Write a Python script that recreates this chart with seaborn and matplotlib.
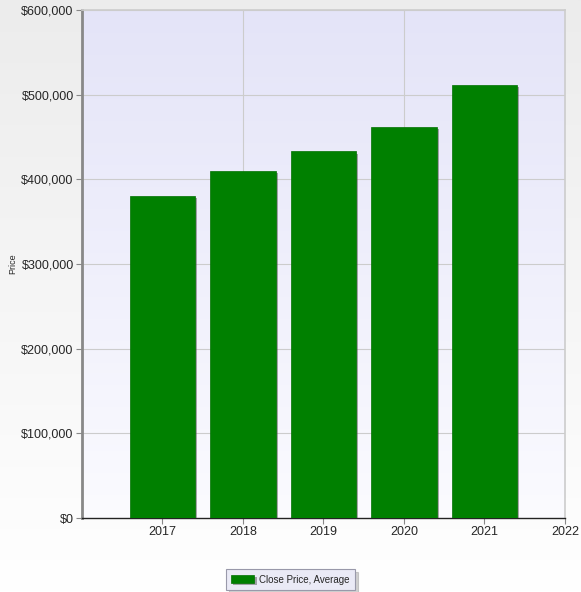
import numpy as np
import pandas as pd
import seaborn as sns
import matplotlib.pyplot as plt
import matplotlib.patheffects as pe
from matplotlib.ticker import FuncFormatter, MultipleLocator

# data
years = [2017, 2018, 2019, 2020, 2021]
avg_close_price = [380000, 410000, 433000, 462000, 512000]
series_name = "Close Price, Average"

df = pd.DataFrame({"year": years, "price": avg_close_price})

sns.set_style("white")
plt.rcParams["font.family"] = ["Liberation Sans", "DejaVu Sans"]

fig = plt.figure(figsize=(5.81, 5.92), dpi=100)

# light grey page gradient behind everything (top row first)
bg = fig.add_axes([0, 0, 1, 1], zorder=-10)
bg.imshow(np.linspace(0, 1, 256).reshape(-1, 1), cmap=sns.blend_palette(["#ececec", "#ffffff"], as_cmap=True),
          aspect="auto", extent=[0, 1, 0, 1])
bg.set_axis_off()

ax = fig.add_axes([0.1411, 0.125, 0.8313, 0.858])

# lavender gradient for the plot area, darker at the top
ax.imshow(np.linspace(0, 1, 256).reshape(-1, 1), cmap=sns.blend_palette(["#e4e4f8", "#fbfbff"], as_cmap=True),
          aspect="auto", extent=[2016, 2022, 0, 600000], zorder=0)

sns.barplot(data=df, x="year", y="price", native_scale=True, width=0.81,
            color="#008000", saturation=1, ax=ax, zorder=3, label=series_name,
            edgecolor="#007000", linewidth=0.5)

for bar in ax.patches:
    bar.set_path_effects([pe.SimplePatchShadow(offset=(1.5, -1.5), shadow_rgbFace="#555555", alpha=0.5), pe.Normal()])

ax.set_xlim(2016, 2022)
ax.set_ylim(0, 600000)
ax.set_xticks([2017, 2018, 2019, 2020, 2021, 2022])
ax.set_xticklabels(["2017", "2018", "2019", "2020", "2021", "2022"])
ax.yaxis.set_major_locator(MultipleLocator(100000))
ax.yaxis.set_major_formatter(FuncFormatter(lambda v, p: f"${v:,.0f}"))

# horizontal grid at every step, vertical grid only at even years
for v in range(100000, 600001, 100000):
    ax.axhline(v, color="#cccccc", lw=0.8, zorder=1)
for yr in [2018, 2020]:
    ax.axvline(yr, color="#cccccc", lw=0.8, zorder=1)

ax.tick_params(axis="both", direction="out", length=4, width=0.8, color="#888888",
               labelsize=9, pad=2, left=True, bottom=True)
ax.set_xlabel("")
ax.set_ylabel("Price", fontsize=6.5)
ax.yaxis.set_label_coords(-0.135, 0.5)

for side in ["top", "right"]:
    ax.spines[side].set_color("#cccccc")
    ax.spines[side].set_linewidth(1.2)
ax.spines["left"].set_color("#888888")
ax.spines["left"].set_linewidth(2)
ax.spines["bottom"].set_color("#222222")
ax.spines["bottom"].set_linewidth(1)

leg = ax.legend(loc="center", bbox_to_anchor=(0.5, 0.021), bbox_transform=fig.transFigure,
                fontsize=7, frameon=True, fancybox=False,
                shadow={"color": "#999999", "alpha": 0.45},
                handlelength=2.4, handleheight=0.9, borderpad=0.55, handletextpad=0.5)
leg.get_frame().set_facecolor("#eaeaf6")
leg.get_frame().set_edgecolor("#9999aa")
leg.get_frame().set_linewidth(0.8)

fig.savefig("out.png", dpi=100)
